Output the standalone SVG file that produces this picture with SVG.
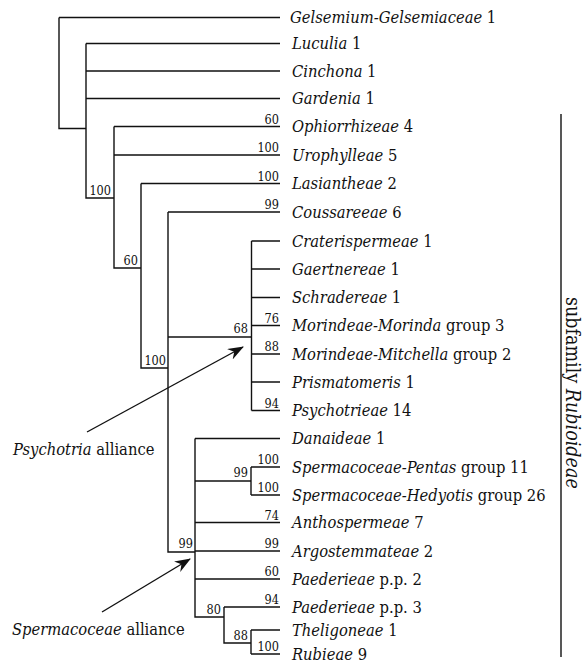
<svg xmlns="http://www.w3.org/2000/svg" width="584" height="667" viewBox="0 0 584 667">
<defs>
<style>
.ln{fill:none;stroke:#111;stroke-width:1.4}
.lf{font-family:'DejaVu Serif Condensed','DejaVu Serif',serif;font-stretch:condensed;font-size:16.4px;fill:#111}
.i{font-style:italic}
.bs{font-family:'DejaVu Serif Condensed','DejaVu Serif',serif;font-stretch:condensed;font-size:12.6px;fill:#111;text-anchor:end}
.ttl{font-family:'DejaVu Serif Condensed','DejaVu Serif',serif;font-stretch:condensed;font-size:19.5px;fill:#111}
</style>
<marker id="ah" markerWidth="16" markerHeight="12" refX="15" refY="6" orient="auto" markerUnits="userSpaceOnUse">
<path d="M0,0 L16,6 L0,12 L5,6 Z" fill="#111"/>
</marker>
</defs>
<rect width="584" height="667" fill="#fff"/>
<g id="connectors">
<path class="ln" d="M59,17.5 V128.5 H86"/>
<path class="ln" d="M86,43.5 V198 H114"/>
<path class="ln" d="M114,126.5 V268 H141"/>
<path class="ln" d="M141,183.5 V368 H168"/>
<path class="ln" d="M168,212 V552 H195"/>
<path class="ln" d="M168,337 H251.5"/>
<path class="ln" d="M251.5,241 V410.5"/>
<path class="ln" d="M195,438.5 V617 H224"/>
<path class="ln" d="M195,481 H251"/>
<path class="ln" d="M251,467 V495"/>
<path class="ln" d="M224,607 V643 H251"/>
<path class="ln" d="M251,630 V654"/>
<path class="ln" d="M59,17.5 H280 M86,43.5 H280 M86,71 H280 M86,98.5 H280 M114,126.5 H280 M114,155 H280 M141,183.5 H280 M168,212 H280 M251.5,241 H280 M251.5,269 H280 M251.5,297.5 H280 M251.5,325.5 H280 M251.5,354 H280 M251.5,382 H280 M251.5,410.5 H280 M195,438.5 H280 M251,467 H280 M251,495 H280 M195,522.5 H280 M195,551 H280 M195,579 H280 M224,607 H280 M251,630 H280 M251,654 H280"/>
<line class="ln" x1="87" y1="432" x2="243" y2="347" marker-end="url(#ah)"/>
<line class="ln" x1="102" y1="612" x2="190" y2="559" marker-end="url(#ah)"/>
<line class="ln" x1="561" y1="114" x2="561" y2="657"/>
</g>
<g id="support">
<text class="bs" x="111" y="195">100</text>
<text class="bs" x="138" y="265">60</text>
<text class="bs" x="166" y="365">100</text>
<text class="bs" x="248" y="333">68</text>
<text class="bs" x="193" y="548">99</text>
<text class="bs" x="248" y="477">99</text>
<text class="bs" x="221" y="614">80</text>
<text class="bs" x="248" y="640">88</text>
<text class="bs" x="279" y="123.5">60</text>
<text class="bs" x="279" y="152">100</text>
<text class="bs" x="279" y="180.5">100</text>
<text class="bs" x="279" y="209">99</text>
<text class="bs" x="279" y="322.5">76</text>
<text class="bs" x="279" y="351">88</text>
<text class="bs" x="279" y="407.5">94</text>
<text class="bs" x="279" y="464">100</text>
<text class="bs" x="279" y="492">100</text>
<text class="bs" x="279" y="519.5">74</text>
<text class="bs" x="279" y="548">99</text>
<text class="bs" x="279" y="576">60</text>
<text class="bs" x="279" y="604">94</text>
<text class="bs" x="279" y="651">100</text>
</g>
<g id="n-gelsemium"><text class="lf" x="290" y="23"><tspan class="i">Gelsemium-Gelsemiaceae</tspan> 1</text></g>
<g id="n-luculia"><text class="lf" x="292" y="49"><tspan class="i">Luculia</tspan> 1</text></g>
<g id="n-cinchona"><text class="lf" x="292" y="76.5"><tspan class="i">Cinchona</tspan> 1</text></g>
<g id="n-gardenia"><text class="lf" x="292" y="104"><tspan class="i">Gardenia</tspan> 1</text></g>
<g id="n-ophiorrhizeae"><text class="lf" x="292" y="132"><tspan class="i">Ophiorrhizeae</tspan> 4</text></g>
<g id="n-urophylleae"><text class="lf" x="292" y="160.5"><tspan class="i">Urophylleae</tspan> 5</text></g>
<g id="n-lasiantheae"><text class="lf" x="292" y="189"><tspan class="i">Lasiantheae</tspan> 2</text></g>
<g id="n-coussareeae"><text class="lf" x="292" y="217.5"><tspan class="i">Coussareeae</tspan> 6</text></g>
<g id="n-craterispermeae"><text class="lf" x="292" y="246.5"><tspan class="i">Craterispermeae</tspan> 1</text></g>
<g id="n-gaertnereae"><text class="lf" x="292" y="274.5"><tspan class="i">Gaertnereae</tspan> 1</text></g>
<g id="n-schradereae"><text class="lf" x="292" y="303"><tspan class="i">Schradereae</tspan> 1</text></g>
<g id="n-morinda"><text class="lf" x="292" y="331"><tspan class="i">Morindeae-Morinda</tspan> group 3</text></g>
<g id="n-mitchella"><text class="lf" x="292" y="359.5"><tspan class="i">Morindeae-Mitchella</tspan> group 2</text></g>
<g id="n-prismatomeris"><text class="lf" x="292" y="387.5"><tspan class="i">Prismatomeris</tspan> 1</text></g>
<g id="n-psychotrieae"><text class="lf" x="292" y="416"><tspan class="i">Psychotrieae</tspan> 14</text></g>
<g id="n-danaideae"><text class="lf" x="292" y="444"><tspan class="i">Danaideae</tspan> 1</text></g>
<g id="n-pentas"><text class="lf" x="292" y="472.5"><tspan class="i">Spermacoceae-Pentas</tspan> group 11</text></g>
<g id="n-hedyotis"><text class="lf" x="292" y="500.5"><tspan class="i">Spermacoceae-Hedyotis</tspan> group 26</text></g>
<g id="n-anthospermeae"><text class="lf" x="292" y="528"><tspan class="i">Anthospermeae</tspan> 7</text></g>
<g id="n-argostemmateae"><text class="lf" x="292" y="556.5"><tspan class="i">Argostemmateae</tspan> 2</text></g>
<g id="n-paederieae2"><text class="lf" x="292" y="584.5"><tspan class="i">Paederieae</tspan> p.p. 2</text></g>
<g id="n-paederieae3"><text class="lf" x="292" y="612.5"><tspan class="i">Paederieae</tspan> p.p. 3</text></g>
<g id="n-theligoneae"><text class="lf" x="292" y="635.5"><tspan class="i">Theligoneae</tspan> 1</text></g>
<g id="n-rubieae"><text class="lf" x="292" y="659.5"><tspan class="i">Rubieae</tspan> 9</text></g>
<g id="lbl-psychotria"><text class="lf" x="13" y="455"><tspan class="i">Psychotria</tspan> alliance</text></g>
<g id="lbl-spermacoceae"><text class="lf" x="12" y="635"><tspan class="i">Spermacoceae</tspan> alliance</text></g>
<g id="lbl-subfamily"><text class="ttl" transform="translate(566,297) rotate(90)">subfamily <tspan class="i">Rubioideae</tspan></text></g>
</svg>
